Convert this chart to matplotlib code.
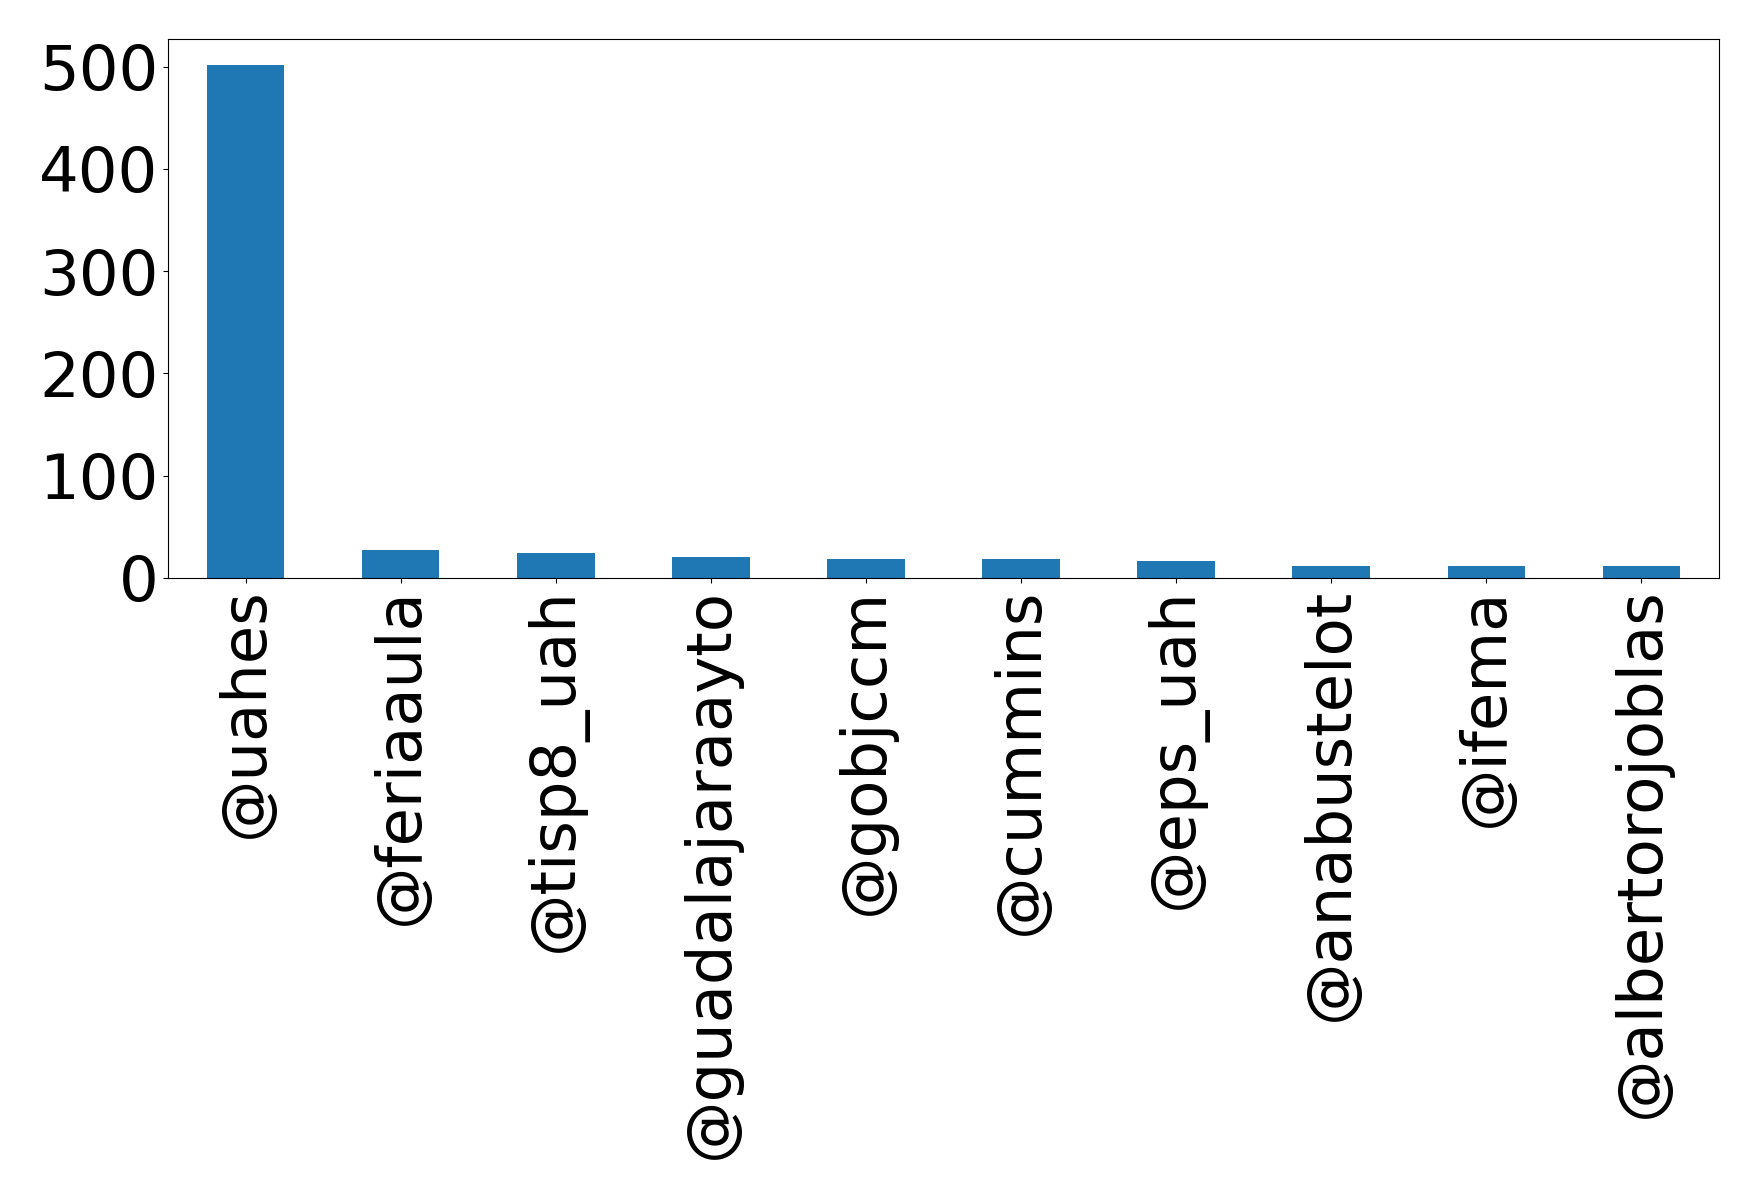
import matplotlib
matplotlib.use("Agg")
import matplotlib.pyplot as plt

categories = ["@uahes", "@feriaaula", "@tisp8_uah", "@guadalajaraayto", "@gobjccm",
              "@cummins", "@eps_uah", "@anabustelot", "@ifema", "@albertorojoblas"]
values = [502, 27, 24, 21, 19, 19, 17, 12, 12, 12]

fig = plt.figure(figsize=(17.59, 11.99), dpi=100)
ax = fig.add_axes([168/1759, 1 - 578/1199, (1719-168)/1759, (578-39)/1199])
x = list(range(len(categories)))
ax.bar(x, values, width=0.5, color="#1f77b4")
ax.set_xlim(-0.5, len(categories) - 0.5)
ax.set_ylim(0, 527)
ax.set_xticks(x)
ax.set_xticklabels(categories, rotation=90, fontsize=45)
ax.set_yticks([0, 100, 200, 300, 400, 500])
ax.tick_params(axis="y", labelsize=45)
fig.savefig("out.png", dpi=100)
